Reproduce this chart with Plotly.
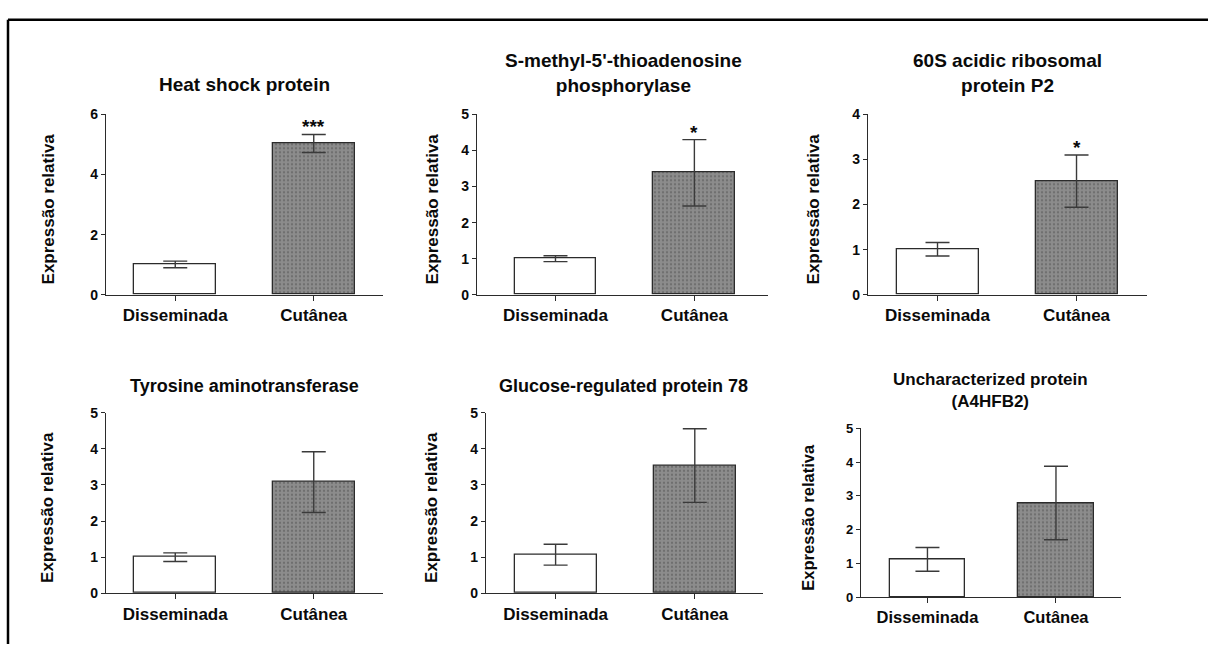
import plotly.graph_objects as go

# ---- data -------------------------------------------------------------
titles = [
    "Heat shock protein",
    "S-methyl-5'-thioadenosine<br>phosphorylase",
    "60S acidic ribosomal<br>protein P2",
    "Tyrosine aminotransferase",
    "Glucose-regulated protein 78",
    "Uncharacterized protein<br>(A4HFB2)",
]
groups = ["Disseminada", "Cutânea"]
mean_disseminada = [1.01, 1.00, 1.01, 1.00, 1.07, 1.12]
sem_disseminada = [0.11, 0.08, 0.15, 0.12, 0.29, 0.35]
mean_cutanea = [5.03, 3.38, 2.52, 3.08, 3.54, 2.79]
sem_cutanea = [0.30, 0.92, 0.58, 0.84, 1.02, 1.09]
significance = ["***", "*", "*", "", "", ""]
y_ticks = [
    [0, 2, 4, 6],
    [0, 1, 2, 3, 4, 5],
    [0, 1, 2, 3, 4],
    [0, 1, 2, 3, 4, 5],
    [0, 1, 2, 3, 4, 5],
    [0, 1, 2, 3, 4, 5],
]
y_label = "Expressão relativa"

# ---- page geometry (pixels) --------------------------------------------
W, H = 1208, 652
# plot area: left, right, top, bottom; x range in category units
panels = [
    dict(l=106, r=383, t=109, b=294, xr=(-0.5, 1.5), title=(244, 78), ytitle_x=48, font=19, tick=17, ytick=14),
    dict(l=477, r=768, t=109, b=294, xr=(-0.565, 1.53), title=(623, 67), ytitle_x=432, font=19, tick=17, ytick=14),
    dict(l=868, r=1147, t=109, b=294, xr=(-0.5, 1.507), title=(1007, 67), ytitle_x=813, font=19, tick=17, ytick=14),
    dict(l=106, r=383, t=415, b=600, xr=(-0.5, 1.5), title=(244, 387), ytitle_x=48, font=18, tick=17, ytick=14),
    dict(l=486, r=763, t=415, b=600, xr=(-0.5, 1.49), title=(623, 387), ytitle_x=432, font=18, tick=17, ytick=14),
    dict(l=861, r=1121, t=431, b=604, xr=(-0.517, 1.506), title=(990, 392), ytitle_x=808, font=17, tick=16.5, ytick=13),
]

FONT = "Liberation Sans, Arial, sans-serif"
INK = "#2b2b2b"
TEXT = "#0a0a0a"


def px_x(x):
    return x / W


def px_y(y):
    return 1 - y / H


fig = go.Figure()
annotations = []
layout = {}

for i, p in enumerate(panels):
    n = "" if i == 0 else str(i + 1)
    xa, ya = "x" + n, "y" + n

    # white bar (disseminated form)
    fig.add_trace(go.Bar(
        x=[0], y=[mean_disseminada[i]], width=0.59,
        marker=dict(color="white", line=dict(color=INK, width=1.3)),
        error_y=dict(type="data", array=[sem_disseminada[i]], color="#3a3a3a",
                     thickness=1.4, width=12),
        xaxis=xa, yaxis=ya, showlegend=False, hoverinfo="skip",
    ))
    # stippled grey bar (cutaneous form)
    fig.add_trace(go.Bar(
        x=[1], y=[mean_cutanea[i]], width=0.59,
        marker=dict(color="#858585", line=dict(color=INK, width=1.3),
                    pattern=dict(shape=".", fgcolor="#4f4f4f", bgcolor="#8c8c8c",
                                 size=4, solidity=0.25)),
        error_y=dict(type="data", array=[sem_cutanea[i]], color="#3a3a3a",
                     thickness=1.4, width=12),
        xaxis=xa, yaxis=ya, showlegend=False, hoverinfo="skip",
    ))

    layout["xaxis" + n] = dict(
        domain=[px_x(p["l"]), px_x(p["r"])], anchor=ya,
        range=list(p["xr"]), autorange=False, tickvals=[0, 1],
        ticktext=["<b>%s</b>" % g for g in groups],
        showline=True, linecolor=INK, linewidth=1.3,
        ticks="outside", ticklen=5, tickcolor=INK, tickwidth=1.3,
        tickfont=dict(family=FONT, size=p["tick"], color=TEXT),
        showgrid=False, zeroline=False, fixedrange=True,
    )
    layout["yaxis" + n] = dict(
        domain=[px_y(p["b"]), px_y(p["t"])], anchor=xa,
        range=[0, y_ticks[i][-1]], autorange=False,
        tickvals=y_ticks[i], ticktext=["<b>%d</b>" % v for v in y_ticks[i]],
        showline=True, linecolor=INK, linewidth=1.3,
        ticks="outside", ticklen=4, tickcolor=INK, tickwidth=1.3,
        tickfont=dict(family=FONT, size=p["ytick"], color=TEXT),
        showgrid=False, zeroline=False, fixedrange=True,
    )

    # panel title
    annotations.append(dict(
        x=px_x(p["title"][0]), y=px_y(p["title"][1]), xref="paper", yref="paper",
        text="<b>%s</b>" % titles[i].replace("<br>", "</b><br><b>"),
        showarrow=False, xanchor="center", yanchor="middle",
        font=dict(family=FONT, size=p["font"], color=TEXT),
    ))
    # y-axis title
    annotations.append(dict(
        x=px_x(p["ytitle_x"]), y=px_y((p["t"] + p["b"]) / 2 + 5), xref="paper", yref="paper",
        text="<b>%s</b>" % y_label, textangle=-90, showarrow=False,
        xanchor="center", yanchor="middle",
        font=dict(family=FONT, size=p["tick"], color=TEXT),
    ))
    # significance marker above the error bar
    if significance[i]:
        annotations.append(dict(
            x=1, y=mean_cutanea[i] + sem_cutanea[i], xref=xa, yref=ya,
            text="<b>%s</b>" % significance[i], showarrow=False,
            xanchor="center", yanchor="bottom", yshift=-5,
            font=dict(family=FONT, size=19, color=TEXT),
        ))

# outer frame (top and left edges)
shapes = [
    dict(type="line", xref="paper", yref="paper", x0=px_x(8), x1=1.0,
         y0=px_y(12), y1=px_y(12), line=dict(color="black", width=2.5)),
    dict(type="line", xref="paper", yref="paper", x0=px_x(8), x1=px_x(8),
         y0=px_y(12), y1=0, line=dict(color="black", width=2.5)),
]

fig.update_layout(
    width=W, height=H,
    margin=dict(l=0, r=0, t=0, b=0),
    paper_bgcolor="white", plot_bgcolor="white",
    bargap=0, annotations=annotations, shapes=shapes,
    **layout,
)

fig.write_html("out.html", config={"displayModeBar": False})

# page without default body margin so the figure fills the window exactly
with open("out.html", encoding="utf-8") as fh:
    page = fh.read()
page = page.replace("<body>", '<body style="margin:0;overflow:hidden">', 1)
with open("out.html", "w", encoding="utf-8") as fh:
    fh.write(page)
